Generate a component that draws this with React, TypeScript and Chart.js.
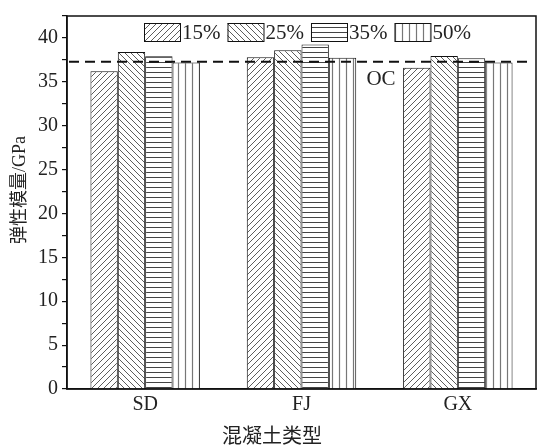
import { useEffect, useRef } from 'react';
import { Chart, registerables } from 'chart.js';
Chart.register(...registerables);

const categories = ['SD', 'FJ', 'GX'];
const seriesLabels = ['15%', '25%', '35%', '50%'];
const values15 = [36.2, 37.8, 36.6];
const values25 = [38.4, 38.6, 37.95];
const values35 = [37.9, 39.25, 37.7];
const values50 = [37.2, 37.75, 37.2];
const ocValue = 37.3;
const ocLabel = 'OC';
const yTitle = '弹性模量/GPa';
const xTitle = '混凝土类型';

const SERIF = "'Liberation Serif', 'Times New Roman', 'Noto Sans CJK SC', serif";
const CJK = "'Liberation Serif', 'Noto Sans CJK SC', serif";

function makePattern(kind: string): CanvasPattern | string {
  const c = document.createElement('canvas');
  let w = 6, h = 6;
  if (kind === 'horiz') { w = 4; h = 5; }
  if (kind === 'vert') { w = 7; h = 4; }
  c.width = w; c.height = h;
  const ctx = c.getContext('2d')!;
  ctx.fillStyle = '#fff';
  ctx.fillRect(0, 0, w, h);
  ctx.lineWidth = 0.8;
  ctx.strokeStyle = '#333';
  ctx.beginPath();
  if (kind === 'fwd') {
    ctx.moveTo(0, 6); ctx.lineTo(6, 0);
    ctx.moveTo(-1, 1); ctx.lineTo(1, -1);
    ctx.moveTo(5, 7); ctx.lineTo(7, 5);
  } else if (kind === 'back') {
    ctx.moveTo(0, 0); ctx.lineTo(6, 6);
    ctx.moveTo(-1, 5); ctx.lineTo(1, 7);
    ctx.moveTo(5, -1); ctx.lineTo(7, 1);
  } else if (kind === 'horiz') {
    ctx.lineWidth = 1;
    ctx.strokeStyle = '#444';
    ctx.moveTo(0, 2.5); ctx.lineTo(w, 2.5);
  } else {
    ctx.lineWidth = 1.2;
    ctx.strokeStyle = '#777';
    ctx.moveTo(3.5, 0); ctx.lineTo(3.5, h);
  }
  ctx.stroke();
  const p = ctx.createPattern(c, 'repeat');
  return p || '#fff';
}

export default function App() {
  const ref = useRef<HTMLCanvasElement | null>(null);
  useEffect(() => {
    document.body.style.margin = '0';
    const canvas = ref.current!;
    const patterns = [makePattern('fwd'), makePattern('back'), makePattern('horiz'), makePattern('vert')];
    const seriesValues = [values15, values25, values35, values50];

    const decor = {
      id: 'decor',
      afterDraw(chart: any) {
        const ctx = chart.ctx as CanvasRenderingContext2D;
        const a = chart.chartArea;
        const y = chart.scales.y;
        ctx.save();
        // dashed OC line
        const yy = y.getPixelForValue(ocValue);
        ctx.strokeStyle = '#111';
        ctx.lineWidth = 2;
        ctx.setLineDash([10, 6]);
        ctx.beginPath();
        ctx.moveTo(a.left + 2, yy);
        ctx.lineTo(a.right - 4, yy);
        ctx.stroke();
        ctx.setLineDash([]);
        // OC label
        ctx.fillStyle = '#222';
        ctx.font = `21px ${SERIF}`;
        ctx.textAlign = 'center';
        ctx.textBaseline = 'middle';
        ctx.fillText(ocLabel, 381, yy + 18);
        // frame
        ctx.strokeStyle = '#111';
        ctx.lineWidth = 1.5;
        ctx.strokeRect(a.left, a.top, a.right - a.left, a.bottom - a.top);
        // legend
        ctx.font = `21px ${SERIF}`;
        ctx.textAlign = 'left';
        let x = 144;
        const top = a.top + 7;
        const bw = 36, bh = 18;
        seriesLabels.forEach((lab, i) => {
          ctx.fillStyle = patterns[i] as any;
          ctx.fillRect(x, top, bw, bh);
          ctx.strokeStyle = '#111';
          ctx.lineWidth = 1;
          ctx.strokeRect(x + 0.5, top + 0.5, bw, bh);
          ctx.fillStyle = '#222';
          ctx.fillText(lab, x + bw + 2, top + bh / 2 + 1);
          x += bw + 2 + ctx.measureText(lab).width + 7;
        });
        // titles
        ctx.font = `20px ${CJK}`;
        ctx.textAlign = 'center';
        ctx.fillText(xTitle, 272, 438);
        ctx.translate(20, 190);
        ctx.rotate(-Math.PI / 2);
        ctx.font = `18px ${CJK}`;
        ctx.fillText(yTitle, 0, 0);
        ctx.restore();
      },
    };

    const chart = new Chart(canvas, {
      type: 'bar',
      data: {
        labels: categories,
        datasets: seriesValues.map((vals, i) => ({
          label: seriesLabels[i],
          data: vals,
          backgroundColor: patterns[i] as any,
          borderColor: '#111',
          borderWidth: 1,
          categoryPercentage: 0.7,
          barPercentage: 1.0,
        })),
      },
      options: {
        responsive: false,
        animation: false,
        layout: { padding: { top: 11, right: 3, left: 0, bottom: 0 } },
        plugins: { legend: { display: false }, tooltip: { enabled: false } },
        scales: {
          x: {
            grid: { display: false, drawTicks: false },
            border: { display: true, color: '#111', width: 1.5 },
            ticks: { font: { family: SERIF, size: 20 }, color: '#222', padding: 4 },
            afterFit: (s: any) => { s.height = 59; },
          },
          y: {
            min: 0,
            max: 42.5,
            ticks: {
              stepSize: 2.5,
              autoSkip: false,
              font: { family: SERIF, size: 20 },
              color: '#222',
              padding: 4,
              callback: (v: any) => (Number(v) % 5 === 0 ? String(v) : ''),
            },
            grid: { drawOnChartArea: false, tickLength: 5, color: '#111', lineWidth: 1.2 },
            border: { display: true, color: '#111', width: 1.5 },
            afterFit: (s: any) => { s.width = 67; },
          },
        },
      },
      plugins: [decor],
    });
    return () => chart.destroy();
  }, []);
  return <canvas ref={ref} width={539} height={448} style={{ display: 'block', width: 539, height: 448 }} />;
}
